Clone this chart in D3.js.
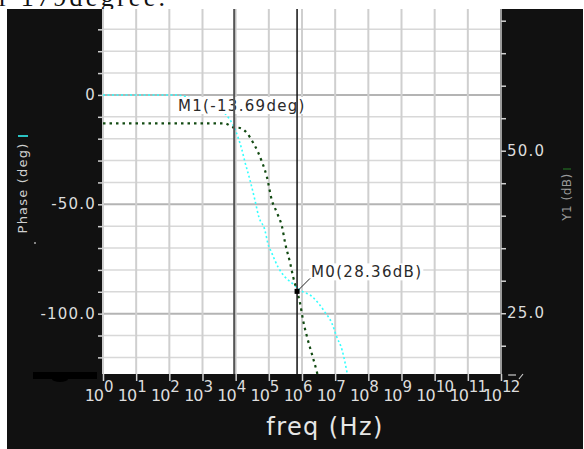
<!DOCTYPE html>
<html>
<head>
<meta charset="utf-8">
<script src="https://cdn.jsdelivr.net/npm/d3@7"></script>
<style>
body { margin: 0; background: #fff; }
text { font-family: "DejaVu Sans", sans-serif; }
</style>
</head>
<body>
<div id="chart"></div>
<script>
// data
var freq = [1, 160, 400, 1000, 3000, 5500, 8300, 11700, 15500, 19000, 27000, 38000, 50000, 76000, 93000,
  123000, 190000, 310000, 500000, 870000, 2.1e6, 4.9e6, 7.9e6, 1.12e7, 1.62e7, 2.0e7, 2.3e7, 2.8e7];
var phase = [0, 0, -1.2, -3, -6, -9.6, -13.7, -19.2, -25.2, -30.6, -38.9, -48.0, -55.8, -61.8, -67.7,
  -72.3, -78.7, -83.3, -86.0, -89.2, -92.4, -99.3, -104.3, -110.7, -116.7, -122.6, -127.2, -133];

var freqDb = [1, 4800, 8300, 13500, 22000, 33000, 47000, 62000, 87000, 123000, 178000, 250000, 310000,
  440000, 540000, 710000, 870000, 1.07e6, 1.5e6, 2.1e6, 2.8e6, 3.3e6];
var gainDb = [54.2, 54.2, 53.6, 53.5, 52.7, 51.3, 49.8, 48.3, 46.0, 42.4, 40.4, 38.3, 35.8,
  32.7, 30.6, 28.36, 26.6, 24.0, 20.9, 18.3, 16.0, 14.5];

var decades = [0, 1, 2, 3, 4, 5, 6, 7, 8, 9, 10, 11, 12];
var phaseTicks = [-120, -110, -100, -90, -80, -70, -60, -50, -40, -30, -20, -10, 0, 10, 20, 30];
var phaseLabelVals = [0, -50, -100];
var phaseLabels = ["0", "-50.0", "-100.0"];
var dbTicks = [20, 25, 30, 35, 40, 45, 50, 55, 60, 65, 70];
var dbLabelVals = [50, 25];
var dbLabels = ["50.0", "25.0"];

var markerM1 = {f: 1e4, text: "M1(-13.69deg)"};
var markerM0 = {f: 710000, v: 28.36, text: "M0(28.36dB)"};

// svg params
var svgWidth = 584, svgHeight = 449;
var margin = {top: 9, right: 83, bottom: 75, left: 103};
var chartWidth = svgWidth - margin.left - margin.right;
var chartHeight = svgHeight - margin.top - margin.bottom;

var svg = d3.select("#chart").append("svg")
  .attr("width", svgWidth)
  .attr("height", svgHeight);

// cut-off caption text from the page above
svg.append("text")
  .attr("x", -1).attr("y", 6)
  .attr("textLength", 166)
  .style("font-family", "'Liberation Serif', serif")
  .style("font-size", "26px")
  .attr("fill", "#111")
  .text("r 179degree.");

// black panel
svg.append("rect")
  .attr("x", 7).attr("y", 9)
  .attr("width", 576).attr("height", 440)
  .attr("fill", "#111");

var chart = svg.append("g")
  .attr("transform", `translate(${margin.left}, ${margin.top})`);

chart.append("rect")
  .attr("width", chartWidth).attr("height", chartHeight)
  .attr("fill", "#fff");

var x = d3.scaleLog().domain([1, 1e12]).range([0, chartWidth]);
var yPhase = d3.scaleLinear().domain([-127.6, 39.3]).range([chartHeight, 0]);
var yDb = d3.scaleLinear().domain([15.65, 71.8]).range([chartHeight, 0]);

// grid
chart.append("g").selectAll("line")
  .data(phaseTicks.filter(d => yPhase(d) > 0))
  .enter().append("line")
  .attr("x1", 0).attr("x2", chartWidth)
  .attr("y1", d => yPhase(d)).attr("y2", d => yPhase(d))
  .attr("stroke", d => d % 50 === 0 ? "#b4b4b4" : "#d8d8d8")
  .attr("stroke-width", d => d % 50 === 0 ? 2 : 1.5);

chart.append("g").selectAll("line")
  .data(decades)
  .enter().append("line")
  .attr("x1", d => x(Math.pow(10, d))).attr("x2", d => x(Math.pow(10, d)))
  .attr("y1", 0).attr("y2", chartHeight)
  .attr("stroke", "#cfcfcf")
  .attr("stroke-width", 2);

// right edge line
chart.append("line")
  .attr("x1", chartWidth).attr("x2", chartWidth)
  .attr("y1", 0).attr("y2", chartHeight)
  .attr("stroke", "#9a9a9a").attr("stroke-width", 2);

// curves
svg.append("clipPath").attr("id", "clip")
  .append("rect").attr("width", chartWidth).attr("height", chartHeight);

var curves = chart.append("g").attr("clip-path", "url(#clip)");

var phaseLine = d3.line()
  .x((d, i) => x(freq[i]))
  .y(d => yPhase(d))
  .curve(d3.curveMonotoneX);
var dbLine = d3.line()
  .x((d, i) => x(freqDb[i]))
  .y(d => yDb(d))
  .curve(d3.curveMonotoneX);

curves.append("path")
  .attr("d", phaseLine(phase))
  .attr("fill", "none")
  .attr("stroke", "#3ff")
  .attr("stroke-width", 1.6)
  .attr("stroke-dasharray", "2,2.5");

curves.append("path")
  .attr("d", dbLine(gainDb))
  .attr("fill", "none")
  .attr("stroke", "#124a12")
  .attr("stroke-width", 2.2)
  .attr("stroke-dasharray", "2.5,4");

// marker labels with white backgrounds
function markerLabel(tx, ty, txt) {
  var g = chart.append("g");
  var t = g.append("text")
    .attr("x", tx).attr("y", ty)
    .style("font-size", "15px")
    .style("letter-spacing", "1.3px")
    .attr("fill", "#2a2a2a")
    .text(txt);
  var bb = t.node().getBBox();
  g.insert("rect", "text")
    .attr("x", bb.x - 2).attr("y", bb.y)
    .attr("width", bb.width + 3).attr("height", bb.height - 1)
    .attr("fill", "#fff");
  return g;
}
markerLabel(75, 102, markerM1.text);
var m0x = x(markerM0.f), m0y = yDb(markerM0.v);
markerLabel(m0x + 14, m0y - 14, markerM0.text);

// marker lines
chart.append("line")
  .attr("x1", x(markerM1.f) - 1.5).attr("x2", x(markerM1.f) - 1.5)
  .attr("y1", 0).attr("y2", chartHeight)
  .attr("stroke", "#555").attr("stroke-width", 2);
chart.append("line")
  .attr("x1", m0x).attr("x2", m0x)
  .attr("y1", 0).attr("y2", chartHeight)
  .attr("stroke", "#111").attr("stroke-width", 1.5);

chart.append("line")
  .attr("x1", m0x + 2).attr("y1", m0y - 2)
  .attr("x2", m0x + 13).attr("y2", m0y - 13)
  .attr("stroke", "#222").attr("stroke-width", 1);
chart.append("rect")
  .attr("x", m0x - 2.5).attr("y", m0y - 2.5)
  .attr("width", 5).attr("height", 5)
  .attr("fill", "#000");

// left axis
var leftAxis = d3.axisLeft(yPhase).tickValues(phaseTicks.filter(d => yPhase(d) > 0))
  .tickSize(5).tickFormat("");
var gl = chart.append("g").call(leftAxis);
gl.select(".domain").remove();
gl.selectAll(".tick line").attr("stroke", "#d0d0d0").attr("stroke-width", 1.5);

chart.append("g").selectAll("text")
  .data(phaseLabelVals)
  .enter().append("text")
  .attr("x", -7)
  .attr("y", d => yPhase(d) + 5)
  .attr("text-anchor", "end")
  .style("font-size", "15px")
  .style("letter-spacing", "1.2px")
  .attr("fill", "#ddd")
  .text((d, i) => phaseLabels[i]);

// right axis
var rightAxis = d3.axisRight(yDb).tickValues(dbTicks).tickSize(5).tickFormat("");
var gr = chart.append("g").attr("transform", `translate(${chartWidth}, 0)`).call(rightAxis);
gr.select(".domain").remove();
gr.selectAll(".tick line").attr("stroke", "#d0d0d0").attr("stroke-width", 1.5);

chart.append("g").selectAll("text")
  .data(dbLabelVals)
  .enter().append("text")
  .attr("x", chartWidth + 6)
  .attr("y", d => yDb(d) + 5)
  .style("font-size", "15px")
  .style("letter-spacing", "1.2px")
  .attr("fill", "#ddd")
  .text((d, i) => dbLabels[i]);

// bottom axis
var bottomAxis = d3.axisBottom(x).tickValues(decades.map(d => Math.pow(10, d)))
  .tickSize(7).tickFormat("");
var gb = chart.append("g").attr("transform", `translate(0, ${chartHeight})`).call(bottomAxis);
gb.select(".domain").remove();
gb.selectAll(".tick line").attr("stroke", "#d0d0d0").attr("stroke-width", 1.5);

var xl = chart.append("g").selectAll("g")
  .data(decades)
  .enter().append("g")
  .attr("transform", d => `translate(${x(Math.pow(10, d))}, ${chartHeight})`);
xl.append("text")
  .attr("x", 0).attr("y", 27)
  .attr("text-anchor", "end")
  .style("font-size", "16px")
  .style("letter-spacing", "-1px")
  .attr("fill", "#ddd")
  .text("10");
xl.append("text")
  .attr("x", 1).attr("y", 18)
  .style("font-size", "15px")
  .style("letter-spacing", "-0.8px")
  .attr("fill", "#ddd")
  .text(d => d);

// axis titles
svg.append("text")
  .attr("x", 325).attr("y", 435)
  .attr("text-anchor", "middle")
  .style("font-size", "24px")
  .style("letter-spacing", "1.4px")
  .attr("fill", "#e6e6e6")
  .text("freq (Hz)");

svg.append("text")
  .attr("transform", "translate(27, 188) rotate(-90)")
  .attr("text-anchor", "middle")
  .style("font-size", "13px")
  .style("letter-spacing", "1.2px")
  .attr("fill", "#cfcfcf")
  .text("Phase (deg)");
svg.append("line")
  .attr("x1", 18).attr("x2", 28).attr("y1", 136).attr("y2", 136)
  .attr("stroke", "#3ff").attr("stroke-width", 1.5);
svg.append("circle").attr("cx", 35).attr("cy", 243).attr("r", 1).attr("fill", "#aaa");

svg.append("text")
  .attr("transform", "translate(571, 197) rotate(-90)")
  .attr("text-anchor", "middle")
  .style("font-size", "12px")
  .style("letter-spacing", "0.5px")
  .attr("fill", "#9a9a9a")
  .text("Y1 (dB)");
svg.append("line")
  .attr("x1", 563).attr("x2", 571).attr("y1", 169).attr("y2", 169)
  .attr("stroke", "#1f5a1f").attr("stroke-width", 1.5);

// stray marks on the panel
svg.append("rect").attr("x", 33).attr("y", 372).attr("width", 64).attr("height", 7).attr("fill", "#000");
svg.append("ellipse").attr("cx", 60).attr("cy", 379).attr("rx", 8).attr("ry", 3).attr("fill", "#000");
svg.append("line").attr("x1", 508).attr("x2", 516).attr("y1", 375).attr("y2", 375)
  .attr("stroke", "#ccc").attr("stroke-width", 1.2);
svg.append("line").attr("x1", 523).attr("x2", 519).attr("y1", 374).attr("y2", 379)
  .attr("stroke", "#ccc").attr("stroke-width", 1.2);
</script>
</body>
</html>
